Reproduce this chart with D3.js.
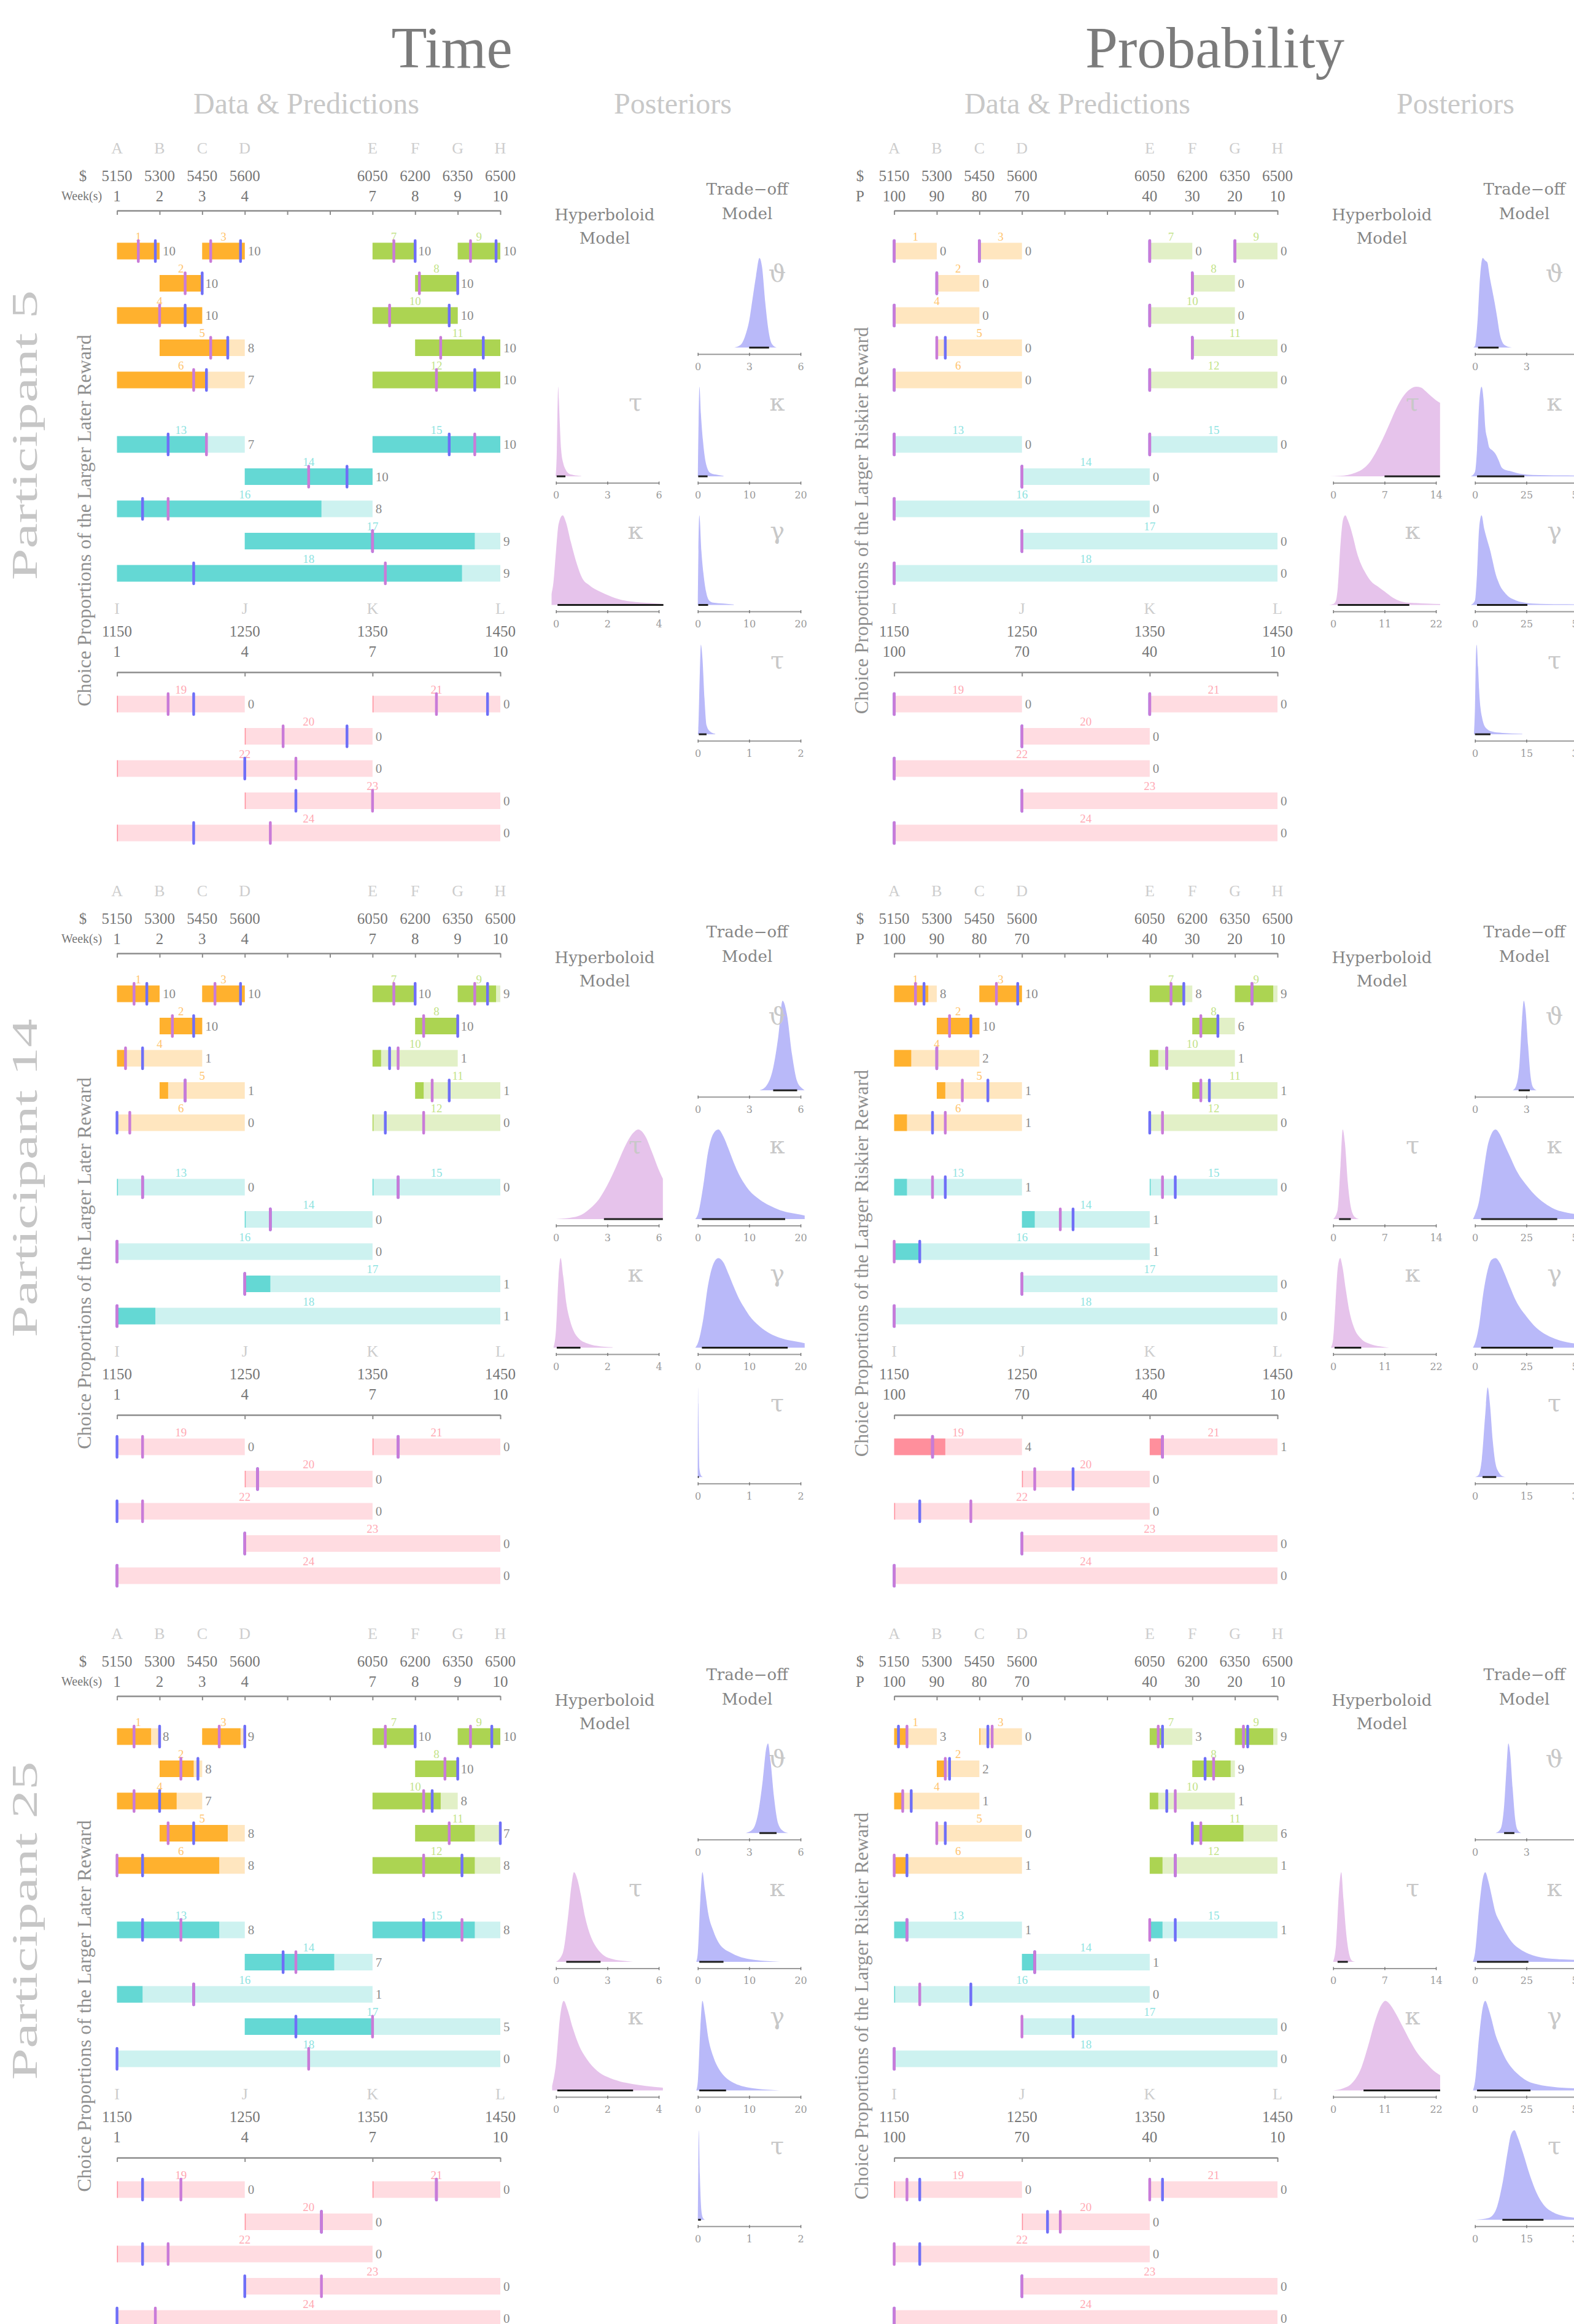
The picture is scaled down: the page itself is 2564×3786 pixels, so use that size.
<!DOCTYPE html>
<html>
<head>
<meta charset="utf-8">
<script src="https://cdn.jsdelivr.net/npm/d3@7"></script>
<style>
  html, body { margin: 0; padding: 0; background: #ffffff; }
  svg { display: block; }
</style>
</head>
<body>
<svg id="fig" width="2564" height="3786"></svg>
<script>
// ---------------------------------------------------------------------------
// Choice items: 24 pairs of options laid out on a common 1..10 position scale
// ---------------------------------------------------------------------------
const itemNumbers = [1,2,3,4,5,6,7,8,9,10,11,12,13,14,15,16,17,18,19,20,21,22,23,24];
const itemStart   = [1,2,3,1,2,1,7,8,9,7,8,7,1,4,7,1,4,1,1,4,7,1,4,1];
const itemEnd     = [2,3,4,3,4,4,8,9,10,9,10,10,4,7,10,7,10,10,4,7,10,7,10,10];
const itemRow     = [0,1,0,2,3,4,0,1,0,2,3,4,6,7,6,8,9,10,0,1,0,2,3,4];
const itemGroup   = ["A","A","A","A","A","A","B","B","B","B","B","B",
                     "C","C","C","C","C","C","D","D","D","D","D","D"];

// Axis labelling
const upperPositions = [1,2,3,4,7,8,9,10];
const upperLetters   = ["A","B","C","D","E","F","G","H"];
const upperAmounts   = ["5150","5300","5450","5600","6050","6200","6350","6500"];
const upperDelays    = ["1","2","3","4","7","8","9","10"];
const upperProbs     = ["100","90","80","70","40","30","20","10"];
const lowerPositions = [1,4,7,10];
const lowerLetters   = ["I","J","K","L"];
const lowerAmounts   = ["1150","1250","1350","1450"];
const lowerDelays    = ["1","4","7","10"];
const lowerProbs     = ["100","70","40","10"];
const allTickPositions = [1,2,3,4,5,6,7,8,9,10];

const participantNames = ["Participant 5", "Participant 14", "Participant 25"];

// ---------------------------------------------------------------------------
// Observed choices (out of 10) and model predictions (in tenths) per item
// ---------------------------------------------------------------------------
const time5Counts  = [10,10,10,10,8,7,10,10,10,10,10,10,7,10,10,8,9,9,0,0,0,0,0,0];
const time5Hyper   = [5,6,2,5,6,6,5,1,3,2,3,5,7,5,8,2,5,7,4,3,5,7,5,4];
const time5Trade   = [9,10,9,8,8,7,10,10,9,9,8,8,4,8,6,1,5,2,6,8,9,5,2,2];
const prob5Counts  = [0,0,0,0,0,0,0,0,0,0,0,0,0,0,0,0,0,0,0,0,0,0,0,0];
const prob5Hyper   = [0,0,0,0,0,0,0,0,0,0,0,0,0,0,0,0,0,0,0,0,0,0,0,0];
const prob5Trade   = [0,0,0,0,1,0,0,0,0,0,0,0,0,0,0,0,0,0,0,0,0,0,0,0];

const time14Counts = [10,10,10,1,1,0,10,10,9,1,1,0,0,0,0,0,1,1,0,0,0,0,0,0];
const time14Hyper  = [4,3,3,1,3,1,5,2,4,3,2,4,2,2,2,0,0,0,2,1,2,1,0,0];
const time14Trade  = [7,8,9,3,3,0,10,10,7,2,4,1,2,2,2,0,0,0,0,1,2,0,0,0];
const prob14Counts = [8,10,10,2,1,1,8,6,9,1,1,0,1,1,0,1,0,0,4,0,1,0,0,0];
const prob14Hyper  = [5,3,4,5,3,4,5,2,4,2,1,1,3,3,1,0,0,0,3,1,1,3,0,0];
const prob14Trade  = [7,8,9,5,6,3,8,6,4,2,2,0,4,4,2,1,0,0,3,4,1,1,0,0];

const time25Counts = [8,8,9,7,8,8,10,10,10,8,7,8,8,7,8,1,5,0,0,0,0,0,0,0];
const time25Hyper  = [4,5,4,2,1,0,3,7,3,6,4,4,5,4,7,3,5,5,5,6,5,2,3,1];
const time25Trade  = [10,9,10,5,4,2,10,10,8,7,10,7,2,3,4,3,2,0,2,6,5,1,0,0];
const prob25Counts = [3,2,0,1,0,1,3,9,9,1,6,1,1,1,1,0,0,0,0,0,0,0,0,0];
const prob25Hyper  = [3,2,3,1,0,0,2,5,2,3,1,2,1,1,0,1,0,0,1,3,0,0,0,0];
const prob25Trade  = [1,3,2,2,1,1,3,3,3,2,0,2,1,1,2,3,2,0,2,2,1,1,0,0];

// ---------------------------------------------------------------------------
// Posterior densities: [parameter value, relative density] for the six
// parameters  (hyperboloid tau, kappa | trade-off theta, kappa, gamma, tau)
// ---------------------------------------------------------------------------
const paramSymbols  = ["\u03C4","\u03BA","\u03D1","\u03BA","\u03B3","\u03C4"];
const paramModel    = ["hyper","hyper","trade","trade","trade","trade"];
const timeAxisMax   = [6, 4, 6, 20, 20, 2];
const probAxisMax   = [14, 22, 6, 50, 50, 30];

const densTime5 = [
  [[-0.02,0],[0.05,0.3],[0.1,0.85],[0.13,1],[0.17,0.85],[0.22,0.6],[0.3,0.3],[0.42,0.15],[0.55,0.08],[0.75,0.03],[1.0,0.015],[1.47,0.004]],
  [[-0.18,0.12],[-0.1,0.25],[0,0.6],[0.1,0.9],[0.26,1],[0.38,0.93],[0.58,0.7],[0.82,0.45],[1.02,0.3],[1.3,0.22],[1.7,0.15],[2.1,0.1],[2.5,0.06],[2.9,0.04],[3.7,0.02],[4.18,0.01]],
  [[2.13,0],[2.5,0.03],[2.8,0.15],[3.0,0.3],[3.2,0.55],[3.4,0.8],[3.6,1],[3.75,0.9],[3.94,0.5],[4.12,0.2],[4.3,0.05],[4.6,0]],
  [[0,0],[0.15,0.6],[0.32,1],[0.6,0.7],[1.0,0.4],[1.4,0.2],[1.8,0.1],[2.4,0.04],[3.5,0.02],[5,0.005]],
  [[0,0],[0.12,0.6],[0.3,1],[0.7,0.6],[1.1,0.35],[1.6,0.15],[2.2,0.05],[3,0.025],[5,0.015],[7,0.005]],
  [[0,0],[0.01,0.05],[0.04,0.7],[0.06,1],[0.09,0.85],[0.13,0.4],[0.17,0.1],[0.24,0.03],[0.34,0.005]]
];
const hdiTime5 = [[0.04,0.55],[0.06,4.18],[3.0,4.16],[0.08,1.9],[0.1,2.0],[0.02,0.17]];

const densProb5 = [
  [[-0.56,0],[1,0.005],[2,0.015],[3,0.04],[3.6,0.06],[4.3,0.1],[5,0.16],[5.7,0.25],[6.4,0.36],[7.1,0.48],[7.8,0.61],[8.5,0.74],[9.2,0.85],[9.9,0.93],[10.6,0.98],[11.3,1],[12,0.99],[12.6,0.95],[13.4,0.89],[14,0.85],[14.56,0.82]],
  [[-0.9,0],[0,0.01],[0.6,0.05],[1.0,0.2],[1.6,0.7],[2.1,0.95],[2.6,1],[3.1,0.95],[3.6,0.88],[4.3,0.75],[5,0.6],[6,0.45],[7,0.35],[8,0.27],[9.7,0.2],[11,0.15],[12.8,0.08],[14.5,0.04],[16,0.025],[18,0.02],[20,0.015],[22.9,0.01]],
  [[-0.1,0],[0,0.02],[0.15,0.3],[0.3,0.8],[0.45,1],[0.6,0.97],[0.72,0.95],[0.85,0.8],[1.0,0.65],[1.15,0.5],[1.3,0.33],[1.45,0.15],[1.6,0.06],[1.8,0.02],[2.16,0]],
  [[-2,0],[0,0.05],[1,0.3],[2,0.8],[3.2,1],[4.2,0.85],[5,0.55],[6,0.42],[7,0.32],[8.5,0.29],[10,0.25],[11.5,0.18],[13,0.1],[15,0.07],[17,0.06],[20,0.04],[23,0.025],[28,0.015],[35,0.012],[42,0.01],[50,0.008],[52,0.005]],
  [[-2,0],[0,0.05],[1,0.35],[2,0.85],[3.2,1],[4.5,0.85],[6,0.72],[7.5,0.6],[8.5,0.5],[10,0.35],[11,0.28],[12.5,0.2],[14,0.15],[16,0.1],[18,0.07],[20,0.05],[23,0.03],[28,0.015],[35,0.01],[50,0.006],[52,0.004]],
  [[-0.3,0],[0,0.3],[0.3,0.9],[0.5,1],[0.9,0.75],[1.2,0.5],[1.6,0.3],[2.0,0.2],[2.5,0.12],[3.5,0.06],[5,0.03],[8,0.015],[13.8,0.005]]
];
const hdiProb5 = [[7.0,14.56],[1.0,16.3],[0.18,1.38],[1,24],[1,25.5],[0,4.5]];

const densTime14 = [
  [[0,0],[1,0.02],[1.5,0.05],[2,0.12],[2.5,0.22],[3,0.38],[3.5,0.58],[4,0.8],[4.5,0.96],[4.8,1],[5.2,0.93],[5.6,0.75],[6,0.55],[6.24,0.45]],
  [[-0.1,0],[0,0.2],[0.1,0.8],[0.18,1],[0.28,0.8],[0.4,0.5],[0.55,0.3],[0.7,0.18],[0.9,0.1],[1.2,0.05],[1.6,0.02],[2.2,0.005]],
  [[3.6,0],[4.0,0.05],[4.4,0.25],[4.7,0.6],[4.95,1],[5.2,0.85],[5.5,0.4],[5.8,0.1],[6.1,0.02],[6.24,0]],
  [[-0.5,0],[0,0.05],[1,0.35],[2,0.75],[3,0.95],[4,1],[5,0.92],[6,0.78],[7,0.63],[8,0.5],[9,0.4],[10,0.32],[12,0.22],[14,0.15],[16,0.1],[18,0.07],[20,0.05],[20.8,0.04]],
  [[-0.5,0],[0,0.05],[1,0.3],[2,0.7],[3,0.93],[4,1],[5,0.95],[6,0.82],[7,0.68],[8,0.55],[9,0.45],[10,0.36],[12,0.24],[14,0.16],[16,0.11],[18,0.08],[20,0.06],[20.8,0.05]],
  [[0,0],[0.005,1],[0.015,0.6],[0.03,0.1],[0.06,0.02],[0.1,0]]
];
const hdiTime14 = [[2.8,6.24],[0.03,0.95],[4.4,5.8],[0.8,17],[0.8,17.5],[0,0.02]];

const densProb14 = [
  [[0,0],[0.6,0.1],[1.0,0.6],[1.3,1],[1.6,0.85],[2,0.4],[2.5,0.1],[3,0.02],[3.5,0]],
  [[-0.5,0],[0,0.1],[0.5,0.5],[1,0.9],[1.5,1],[2,0.9],[2.7,0.65],[3.5,0.4],[4.5,0.22],[6,0.1],[8,0.04],[10,0.015],[12,0]],
  [[2.2,0],[2.4,0.05],[2.6,0.3],[2.75,0.8],[2.85,1],[2.95,0.9],[3.1,0.5],[3.25,0.15],[3.4,0.03],[3.6,0]],
  [[-1,0],[0,0.05],[2,0.2],[4,0.5],[6,0.8],[8,0.95],[10,1],[12,0.95],[14,0.85],[17,0.7],[20,0.55],[25,0.38],[30,0.25],[35,0.16],[40,0.1],[45,0.07],[50,0.05],[52,0.04]],
  [[-1,0],[0,0.05],[2,0.25],[4,0.6],[6,0.85],[8,0.98],[10,1],[12,0.95],[14,0.85],[17,0.68],[20,0.52],[25,0.35],[30,0.22],[35,0.14],[40,0.09],[45,0.06],[50,0.04],[52,0.03]],
  [[0,0],[1,0.02],[2,0.2],[3,0.7],[3.7,1],[4.4,0.8],[5.2,0.4],[6,0.15],[7,0.05],[8,0.01],[9,0]]
];
const hdiProb14 = [[0.8,2.4],[0.3,6],[2.55,3.2],[3,40],[3,38],[2.2,6.2]];

const densTime25 = [
  [[0,0],[0.4,0.1],[0.7,0.5],[0.9,0.85],[1.05,1],[1.25,0.92],[1.45,0.75],[1.7,0.5],[2,0.3],[2.4,0.15],[2.8,0.07],[3.3,0.03],[4,0.01],[4.5,0]],
  [[-0.15,0.05],[0,0.3],[0.15,0.8],[0.3,1],[0.45,0.9],[0.65,0.7],[0.9,0.5],[1.2,0.35],[1.6,0.22],[2,0.15],[2.5,0.1],[3,0.07],[3.5,0.05],[4.16,0.03]],
  [[2.8,0],[3.2,0.04],[3.5,0.2],[3.8,0.6],[4.0,0.95],[4.1,1],[4.25,0.8],[4.45,0.4],[4.7,0.1],[5,0.02],[5.3,0]],
  [[-0.3,0],[0,0.1],[0.5,0.7],[0.9,1],[1.4,0.8],[2,0.55],[3,0.35],[4,0.22],[5,0.15],[6.5,0.1],[8,0.06],[10,0.03],[13,0.01],[16,0]],
  [[-0.3,0],[0,0.1],[0.5,0.7],[0.9,1],[1.4,0.85],[2,0.6],[3,0.38],[4,0.25],[5,0.17],[6.5,0.1],[8,0.06],[10,0.03],[13,0.01],[16,0]],
  [[0,0],[0.01,0.6],[0.02,1],[0.04,0.5],[0.07,0.1],[0.1,0.02],[0.14,0]]
];
const hdiTime25 = [[0.6,2.6],[0.05,3.0],[3.6,4.6],[0.3,5],[0.3,5.5],[0.005,0.06]];

const densProb25 = [
  [[0,0],[0.4,0.2],[0.8,0.8],[1.1,1],[1.4,0.7],[1.8,0.3],[2.2,0.08],[2.6,0.01],[3,0]],
  [[0,0],[2,0.02],[4,0.08],[6,0.25],[7.5,0.5],[9,0.78],[10.5,0.97],[11.2,1],[12,0.97],[13.5,0.85],[15,0.7],[16.5,0.55],[18,0.42],[20,0.3],[22,0.2],[22.9,0.17]],
  [[1.2,0],[1.5,0.05],[1.7,0.3],[1.85,0.75],[1.95,1],[2.05,0.9],[2.2,0.5],[2.35,0.15],[2.5,0.03],[2.7,0]],
  [[-1,0],[0,0.1],[2,0.6],[4,0.95],[5,1],[6.5,0.9],[8,0.75],[10,0.55],[12,0.45],[15,0.32],[18,0.22],[22,0.14],[26,0.09],[30,0.06],[40,0.03],[50,0.02],[52,0.015]],
  [[-1,0],[0,0.1],[2,0.6],[4,0.95],[5,1],[6.5,0.92],[8,0.8],[10,0.62],[12,0.5],[15,0.35],[18,0.25],[22,0.16],[26,0.1],[30,0.07],[40,0.035],[50,0.02],[52,0.015]],
  [[0,0],[4,0.02],[6,0.1],[8,0.4],[9.5,0.75],[10.5,0.95],[11.5,1],[12.5,0.92],[14,0.75],[16,0.5],[18,0.3],[20,0.17],[23,0.08],[26,0.04],[30,0.02],[31.2,0.015]]
];
const hdiProb25 = [[0.6,2.0],[6.5,22.9],[1.7,2.3],[1,26],[1,27],[8,20]];

// ---------------------------------------------------------------------------
// Tables assembled from the arrays above
// ---------------------------------------------------------------------------
const panelData = [
  { counts: [time5Counts, prob5Counts],   hyper: [time5Hyper, prob5Hyper],   trade: [time5Trade, prob5Trade],
    dens: [densTime5, densProb5],   hdi: [hdiTime5, hdiProb5] },
  { counts: [time14Counts, prob14Counts], hyper: [time14Hyper, prob14Hyper], trade: [time14Trade, prob14Trade],
    dens: [densTime14, densProb14], hdi: [hdiTime14, hdiProb14] },
  { counts: [time25Counts, prob25Counts], hyper: [time25Hyper, prob25Hyper], trade: [time25Trade, prob25Trade],
    dens: [densTime25, densProb25], hdi: [hdiTime25, hdiProb25] }
];

// ---------------------------------------------------------------------------
// Styling and layout
// ---------------------------------------------------------------------------
const SERIF  = "'Liberation Serif','Times New Roman',serif";
const SCHOOL = "'DejaVu Serif','Liberation Serif',serif";
const groupDark  = { A: "#ffb12e", B: "#acd452", C: "#64d8d4", D: "#ff8f9c" };
const groupLight = { A: "#ffe6bf", B: "#e2f0c7", C: "#cdf2f0", D: "#ffdce1" };
const groupLabel = { A: "#ffc46e", B: "#c3e389", C: "#8ee3e1", D: "#ffa8b3" };
const hyperMark = "#c97bd8", tradeMark = "#6f6ff7";
const hyperFill = "#e6c3eb", tradeFill = "#b9b9f9";

const blockDY  = [0, 1210, 2420];
const domainDX = [0, 1266];

const svg = d3.select("#fig");

// Column titles
const titleLayer = svg.append("g");
[["Time", 736], ["Probability", 1979]].forEach(([t, x]) => {
  titleLayer.append("text").attr("x", x).attr("y", 110).attr("text-anchor", "middle")
    .attr("font-family", SERIF).attr("font-size", 95).attr("fill", "#7b7b7b").text(t);
});
[["Data & Predictions", 499], ["Posteriors", 1096], ["Data & Predictions", 1755], ["Posteriors", 2371]]
  .forEach(([t, x]) => {
    titleLayer.append("text").attr("x", x).attr("y", 185).attr("text-anchor", "middle")
      .attr("font-family", SERIF).attr("font-size", 48).attr("fill", "#c8c8c8").text(t);
  });

// Position scale shared by every data panel (positions 1..10)
const xPos = d3.scaleLinear().domain([1, 10]).range([190.6, 815]);
const upperRowY = d3.scaleLinear().domain([0, 10]).range([409, 934]);
const lowerRowY = d3.scaleLinear().domain([0, 4]).range([1147, 1357]);
const BAR_H = 27;

function labelRow(g, positions, labels, y, size, fill) {
  g.append("g").selectAll("text").data(labels).join("text")
    .attr("x", (d, i) => xPos(positions[i])).attr("y", y)
    .attr("text-anchor", "middle").attr("font-family", SERIF)
    .attr("font-size", size).attr("fill", fill).text(d => d);
}

function drawAxisLine(g, positions, y) {
  const ax = g.append("g").attr("transform", `translate(0,${y})`)
    .call(d3.axisBottom(xPos).tickValues(positions).tickFormat("").tickSize(7).tickSizeOuter(0));
  ax.select(".domain").attr("stroke", "#8c8c8c").attr("stroke-width", 2.5);
  ax.selectAll(".tick line").attr("stroke", "#8c8c8c").attr("stroke-width", 2);
}

function drawDataPanel(g, di, counts, hyper, trade) {
  // upper header
  labelRow(g, upperPositions, upperLetters, 250, 26, "#cdcdcd");
  labelRow(g, upperPositions, upperAmounts, 295, 25, "#767676");
  labelRow(g, upperPositions, di === 0 ? upperDelays : upperProbs, 328, 25, "#767676");
  g.append("text").attr("x", 135).attr("y", 295).attr("text-anchor", "middle")
    .attr("font-family", SERIF).attr("font-size", 25).attr("fill", "#767676").text("$");
  if (di === 0) {
    g.append("text").attr("x", 100).attr("y", 326).attr("text-anchor", "start")
      .attr("font-family", SERIF).attr("font-size", 20).attr("fill", "#767676").text("Week(s)");
  } else {
    g.append("text").attr("x", 135).attr("y", 328).attr("text-anchor", "middle")
      .attr("font-family", SERIF).attr("font-size", 25).attr("fill", "#767676").text("P");
  }
  drawAxisLine(g, allTickPositions, 343);

  // lower header
  labelRow(g, lowerPositions, lowerLetters, 1000, 26, "#cdcdcd");
  labelRow(g, lowerPositions, lowerAmounts, 1037, 25, "#767676");
  labelRow(g, lowerPositions, di === 0 ? lowerDelays : lowerProbs, 1070, 25, "#767676");
  drawAxisLine(g, lowerPositions, 1095);

  // y axis title
  g.append("text")
    .attr("transform", "translate(148,848) rotate(-90)")
    .attr("text-anchor", "middle").attr("font-family", SERIF).attr("font-size", 32)
    .attr("fill", "#8f8f8f")
    .text(di === 0 ? "Choice Proportions of the Larger Later Reward"
                   : "Choice Proportions of the Larger Riskier Reward");

  const items = itemNumbers.map((n, i) => {
    const x0 = xPos(itemStart[i]), x1 = xPos(itemEnd[i]);
    const cy = i < 18 ? upperRowY(itemRow[i]) : lowerRowY(itemRow[i]);
    return { n, x0, x1, w: x1 - x0, cy, grp: itemGroup[i],
             count: counts[i], hyper: hyper[i], trade: trade[i] };
  });

  const ig = g.append("g").selectAll("g").data(items).join("g");
  ig.append("rect")
    .attr("x", d => d.x0).attr("y", d => d.cy - BAR_H / 2)
    .attr("width", d => d.w).attr("height", BAR_H)
    .attr("fill", d => groupLight[d.grp]);
  ig.append("rect")
    .attr("x", d => d.x0).attr("y", d => d.cy - BAR_H / 2)
    .attr("width", d => Math.max(d.w * d.count / 10, 1.5)).attr("height", BAR_H)
    .attr("fill", d => groupDark[d.grp]);
  ig.append("text")
    .attr("x", d => (d.x0 + d.x1) / 2).attr("y", d => d.cy - BAR_H / 2 - 4)
    .attr("text-anchor", "middle").attr("font-family", SERIF).attr("font-size", 19)
    .attr("fill", d => groupLabel[d.grp]).text(d => d.n);
  ig.append("text")
    .attr("x", d => d.x1 + 5).attr("y", d => d.cy + 7)
    .attr("text-anchor", "start").attr("font-family", SERIF).attr("font-size", 21)
    .attr("fill", "#8a8a8a").text(d => d.count);
  ig.append("line")
    .attr("x1", d => d.x0 + d.w * d.trade / 10).attr("x2", d => d.x0 + d.w * d.trade / 10)
    .attr("y1", d => d.cy - 17).attr("y2", d => d.cy + 17)
    .attr("stroke", tradeMark).attr("stroke-width", 4.5).attr("stroke-linecap", "round");
  ig.append("line")
    .attr("x1", d => d.x0 + d.w * d.hyper / 10).attr("x2", d => d.x0 + d.w * d.hyper / 10)
    .attr("y1", d => d.cy - 17).attr("y2", d => d.cy + 17)
    .attr("stroke", hyperMark).attr("stroke-width", 4.5).attr("stroke-linecap", "round");
}

// Posterior panels
const POST_W = 167.4, POST_H = 146;
const colX = [905.7, 1136.7];
const rowAxisY = [576.7, 786.5, 996, 1206.7];
const paramCol = [0, 0, 1, 1, 1, 1];
const paramRow = [1, 2, 0, 1, 2, 3];
let clipId = 0;

function drawPosteriors(g, di, dens, hdi) {
  g.append("text").attr("x", 985).attr("y", 359).attr("text-anchor", "middle")
    .attr("font-family", SCHOOL).attr("font-size", 26).attr("fill", "#858585").text("Hyperboloid");
  g.append("text").attr("x", 985).attr("y", 397).attr("text-anchor", "middle")
    .attr("font-family", SCHOOL).attr("font-size", 26).attr("fill", "#858585").text("Model");
  g.append("text").attr("x", 1217).attr("y", 317).attr("text-anchor", "middle")
    .attr("font-family", SCHOOL).attr("font-size", 26).attr("fill", "#858585").text("Trade\u2212off");
  g.append("text").attr("x", 1217).attr("y", 357).attr("text-anchor", "middle")
    .attr("font-family", SCHOOL).attr("font-size", 26).attr("fill", "#858585").text("Model");

  paramSymbols.forEach((sym, k) => {
    const maxV = (di === 0 ? timeAxisMax : probAxisMax)[k];
    const ax0 = colX[paramCol[k]], ay = rowAxisY[paramRow[k]];
    const xs = d3.scaleLinear().domain([0, maxV]).range([ax0, ax0 + POST_W]);
    const base = ay - 10.5;
    const ys = d3.scaleLinear().domain([0, 1]).range([base, base - POST_H]);
    const pg = g.append("g");
    const id = "clip" + (clipId++);
    pg.append("clipPath").attr("id", id).append("rect")
      .attr("x", ax0 - 7.3).attr("y", base - POST_H - 5)
      .attr("width", POST_W + 14.6).attr("height", POST_H + 5.5);
    const area = d3.area().x(d => xs(d[0])).y0(base).y1(d => ys(d[1])).curve(d3.curveMonotoneX);
    pg.append("path").datum(dens[k]).attr("clip-path", `url(#${id})`)
      .attr("d", area).attr("fill", paramModel[k] === "hyper" ? hyperFill : tradeFill);
    pg.append("line").attr("x1", xs(hdi[k][0])).attr("x2", xs(hdi[k][1]))
      .attr("y1", base).attr("y2", base).attr("stroke", "#1e1e1e").attr("stroke-width", 3);
    const ax = pg.append("g").attr("transform", `translate(0,${ay})`)
      .call(d3.axisBottom(xs).tickValues([0, maxV / 2, maxV]).tickFormat(d3.format("d"))
        .tickSize(3).tickSizeOuter(0).tickPadding(11.5));
    ax.select(".domain").attr("stroke", "#9a9a9a").attr("stroke-width", 2);
    ax.selectAll(".tick line").attr("stroke", "#777").attr("stroke-width", 1.5).attr("y1", -2);
    ax.selectAll(".tick text").attr("font-family", SCHOOL).attr("font-size", 16).attr("fill", "#9a9a9a");
    pg.append("text").attr("x", ax0 + POST_W - 38).attr("y", ay - 132)
      .attr("text-anchor", "middle").attr("dominant-baseline", "central")
      .attr("font-family", SCHOOL).attr("font-size", 40).attr("fill", "#c8c8c8").text(sym);
  });
}

participantNames.forEach((name, pi) => {
  const block = svg.append("g").attr("transform", `translate(0,${blockDY[pi]})`);
  const label = block.append("text").attr("transform", "translate(60,709) rotate(-90)")
    .attr("text-anchor", "middle").attr("font-family", SERIF).attr("font-size", 60)
    .attr("fill", "#c6c6c6").text(name);
  // the participant label is drawn wide-set along the margin
  const natural = label.node().getComputedTextLength();
  label.attr("textLength", natural * 1.55).attr("lengthAdjust", "spacingAndGlyphs");
  [0, 1].forEach(di => {
    const g = block.append("g").attr("transform", `translate(${domainDX[di]},0)`);
    const pd = panelData[pi];
    drawDataPanel(g, di, pd.counts[di], pd.hyper[di], pd.trade[di]);
    drawPosteriors(g, di, pd.dens[di], pd.hdi[di]);
  });
});
</script>
</body>
</html>
